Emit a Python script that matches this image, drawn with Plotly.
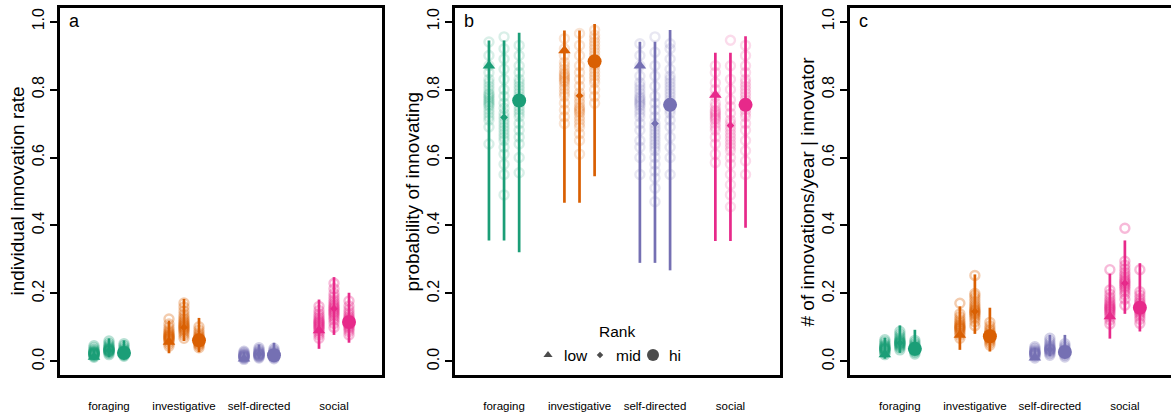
import plotly.graph_objects as go

categories = ["foraging", "investigative", "self-directed", "social"]
ranks = ["low", "mid", "hi"]
colors = ["#1B9E77", "#D95F02", "#7570B3", "#E7298A"]
rank_offset = [-0.2, 0.0, 0.2]
rank_symbol = ["triangle-up", "diamond", "circle"]
rank_size = [11, 6, 14]

# ---- panel a: individual innovation rate (rows: category, cols: low/mid/hi)
rate_est = [[0.013, 0.032, 0.025],
            [0.057, 0.100, 0.062],
            [0.008, 0.021, 0.018],
            [0.091, 0.155, 0.116]]
rate_lo = [[0.004, 0.012, 0.010],
           [0.024, 0.060, 0.027],
           [0.003, 0.008, 0.006],
           [0.037, 0.078, 0.055]]
rate_hi = [[0.035, 0.068, 0.062],
           [0.120, 0.184, 0.128],
           [0.028, 0.050, 0.055],
           [0.182, 0.248, 0.202]]
rate_draws = [
    [[0.012, 0.015, 0.017, 0.019, 0.020, 0.021, 0.022, 0.023, 0.024, 0.024, 0.025, 0.026,
      0.027, 0.028, 0.030, 0.032, 0.035, 0.040, 0.046],
     [0.020, 0.024, 0.027, 0.029, 0.030, 0.031, 0.032, 0.033, 0.034, 0.035, 0.036, 0.037,
      0.039, 0.041, 0.044, 0.048, 0.053, 0.060],
     [0.015, 0.018, 0.020, 0.022, 0.023, 0.024, 0.025, 0.026, 0.027, 0.028, 0.029, 0.031,
      0.033, 0.036, 0.040, 0.046, 0.052]],
    [[0.045, 0.052, 0.058, 0.062, 0.065, 0.067, 0.069, 0.071, 0.073, 0.075, 0.077, 0.080,
      0.083, 0.087, 0.092, 0.100, 0.110, 0.125],
     [0.068, 0.077, 0.084, 0.089, 0.093, 0.096, 0.099, 0.102, 0.105, 0.108, 0.111, 0.115,
      0.119, 0.124, 0.130, 0.138, 0.148, 0.160, 0.172],
     [0.040, 0.046, 0.050, 0.053, 0.056, 0.058, 0.060, 0.062, 0.064, 0.066, 0.068, 0.071,
      0.074, 0.078, 0.084, 0.092, 0.102]],
    [[0.006, 0.009, 0.011, 0.012, 0.013, 0.014, 0.015, 0.016, 0.017, 0.018, 0.019, 0.021,
      0.023, 0.026, 0.030],
     [0.010, 0.013, 0.015, 0.017, 0.018, 0.019, 0.020, 0.021, 0.022, 0.023, 0.024, 0.026,
      0.028, 0.031, 0.035, 0.040],
     [0.008, 0.011, 0.013, 0.015, 0.016, 0.017, 0.018, 0.019, 0.020, 0.021, 0.022, 0.024,
      0.026, 0.029, 0.033, 0.038]],
    [[0.068, 0.078, 0.085, 0.091, 0.096, 0.100, 0.103, 0.106, 0.109, 0.112, 0.115, 0.118,
      0.122, 0.127, 0.133, 0.140, 0.150, 0.162],
     [0.100, 0.112, 0.121, 0.128, 0.134, 0.139, 0.143, 0.147, 0.151, 0.155, 0.159, 0.163,
      0.168, 0.174, 0.181, 0.190, 0.200, 0.214, 0.230],
     [0.078, 0.088, 0.095, 0.100, 0.104, 0.107, 0.110, 0.113, 0.116, 0.119, 0.122, 0.126,
      0.130, 0.136, 0.143, 0.152, 0.163, 0.178]],
]

# ---- panel b: probability of innovating
prob_est = [[0.870, 0.718, 0.768],
            [0.915, 0.782, 0.883],
            [0.870, 0.700, 0.755],
            [0.784, 0.694, 0.755]]
prob_lo = [[0.356, 0.356, 0.321],
           [0.467, 0.467, 0.545],
           [0.290, 0.290, 0.268],
           [0.354, 0.354, 0.393]]
prob_hi = [[0.944, 0.944, 0.967],
           [0.974, 0.974, 0.993],
           [0.941, 0.941, 0.975],
           [0.908, 0.908, 0.957]]
prob_draws = [
    [[0.94, 0.90, 0.87, 0.85, 0.83, 0.82, 0.81, 0.80, 0.79, 0.785, 0.78, 0.775, 0.77, 0.765,
      0.76, 0.755, 0.75, 0.74, 0.73, 0.72, 0.71, 0.69, 0.64],
     [0.955, 0.92, 0.89, 0.86, 0.83, 0.80, 0.78, 0.76, 0.745, 0.73, 0.72, 0.71, 0.70, 0.69,
      0.68, 0.67, 0.66, 0.65, 0.63, 0.61, 0.58, 0.55, 0.49],
     [0.93, 0.90, 0.87, 0.85, 0.83, 0.82, 0.81, 0.80, 0.79, 0.78, 0.77, 0.76, 0.75, 0.74,
      0.73, 0.72, 0.70, 0.68, 0.66, 0.64, 0.60, 0.555]],
    [[0.95, 0.92, 0.90, 0.88, 0.87, 0.86, 0.85, 0.845, 0.84, 0.835, 0.83, 0.825, 0.82, 0.81,
      0.80, 0.79, 0.78, 0.76, 0.74, 0.72, 0.70],
     [0.965, 0.93, 0.90, 0.87, 0.85, 0.83, 0.81, 0.79, 0.78, 0.77, 0.76, 0.75, 0.745, 0.74,
      0.735, 0.73, 0.72, 0.71, 0.70, 0.69, 0.67, 0.65, 0.61],
     [0.975, 0.96, 0.95, 0.94, 0.93, 0.92, 0.91, 0.90, 0.89, 0.885, 0.88, 0.875, 0.87, 0.86,
      0.85, 0.84, 0.83, 0.82, 0.80, 0.78, 0.76]],
    [[0.935, 0.90, 0.87, 0.84, 0.82, 0.81, 0.80, 0.79, 0.78, 0.775, 0.77, 0.765, 0.76, 0.755,
      0.75, 0.74, 0.73, 0.72, 0.70, 0.68, 0.65, 0.63, 0.60, 0.55],
     [0.955, 0.91, 0.87, 0.84, 0.81, 0.78, 0.76, 0.74, 0.72, 0.70, 0.69, 0.68, 0.67, 0.66,
      0.65, 0.64, 0.63, 0.62, 0.60, 0.58, 0.56, 0.54, 0.51, 0.47],
     [0.935, 0.92, 0.89, 0.86, 0.84, 0.83, 0.82, 0.81, 0.80, 0.79, 0.78, 0.77, 0.76, 0.75,
      0.74, 0.73, 0.71, 0.69, 0.66, 0.63, 0.60, 0.55]],
    [[0.87, 0.85, 0.82, 0.80, 0.78, 0.76, 0.75, 0.74, 0.735, 0.73, 0.725, 0.72, 0.715, 0.71,
      0.70, 0.69, 0.68, 0.66, 0.64, 0.61, 0.585],
     [0.945, 0.87, 0.83, 0.80, 0.77, 0.75, 0.73, 0.71, 0.70, 0.69, 0.68, 0.67, 0.66, 0.65,
      0.64, 0.63, 0.62, 0.60, 0.58, 0.55, 0.52, 0.49, 0.455],
     [0.93, 0.90, 0.87, 0.85, 0.83, 0.82, 0.81, 0.80, 0.79, 0.78, 0.77, 0.76, 0.75, 0.74,
      0.73, 0.72, 0.70, 0.68, 0.65, 0.62, 0.59, 0.55]],
]

# ---- panel c: innovations per year given innovator
count_est = [[0.020, 0.054, 0.037],
             [0.078, 0.147, 0.074],
             [0.011, 0.035, 0.028],
             [0.132, 0.230, 0.158]]
count_lo = [[0.008, 0.025, 0.018],
            [0.034, 0.081, 0.029],
            [0.004, 0.015, 0.012],
            [0.067, 0.140, 0.088]]
count_hi = [[0.070, 0.106, 0.093],
            [0.162, 0.256, 0.158],
            [0.040, 0.078, 0.078],
            [0.258, 0.356, 0.289]]
count_draws = [
    [[0.020, 0.025, 0.028, 0.031, 0.033, 0.035, 0.036, 0.037, 0.038, 0.039, 0.041, 0.043,
      0.045, 0.048, 0.052, 0.058, 0.064],
     [0.034, 0.040, 0.044, 0.047, 0.049, 0.051, 0.053, 0.054, 0.055, 0.057, 0.059, 0.061,
      0.064, 0.068, 0.073, 0.080, 0.088],
     [0.022, 0.027, 0.030, 0.032, 0.034, 0.035, 0.036, 0.037, 0.038, 0.040, 0.042, 0.044,
      0.047, 0.051, 0.056, 0.062]],
    [[0.068, 0.077, 0.083, 0.088, 0.092, 0.095, 0.098, 0.100, 0.102, 0.105, 0.108, 0.112,
      0.117, 0.123, 0.131, 0.140, 0.171],
     [0.105, 0.117, 0.126, 0.132, 0.137, 0.141, 0.144, 0.147, 0.150, 0.153, 0.157, 0.162,
      0.168, 0.176, 0.185, 0.193, 0.200, 0.253],
     [0.048, 0.055, 0.060, 0.064, 0.067, 0.070, 0.072, 0.074, 0.076, 0.078, 0.081, 0.085,
      0.090, 0.096, 0.104, 0.115]],
    [[0.010, 0.015, 0.018, 0.020, 0.022, 0.023, 0.024, 0.025, 0.026, 0.027, 0.029, 0.031,
      0.034, 0.038, 0.043],
     [0.018, 0.023, 0.027, 0.030, 0.032, 0.034, 0.035, 0.036, 0.037, 0.039, 0.041, 0.044,
      0.048, 0.053, 0.060, 0.068],
     [0.013, 0.018, 0.021, 0.023, 0.025, 0.026, 0.027, 0.028, 0.029, 0.031, 0.033, 0.036,
      0.040, 0.045, 0.052]],
    [[0.110, 0.122, 0.131, 0.138, 0.143, 0.147, 0.151, 0.154, 0.157, 0.160, 0.164, 0.168,
      0.173, 0.180, 0.188, 0.198, 0.210, 0.270],
     [0.165, 0.183, 0.196, 0.205, 0.212, 0.218, 0.223, 0.228, 0.232, 0.236, 0.241, 0.247,
      0.254, 0.262, 0.272, 0.283, 0.295, 0.392],
     [0.112, 0.124, 0.133, 0.140, 0.145, 0.149, 0.153, 0.156, 0.159, 0.162, 0.166, 0.171,
      0.177, 0.185, 0.195, 0.205, 0.270]],
]

y_titles = ["individual innovation rate", "probability of innovating",
            "# of innovations/year | innovator"]
panel_letters = ["a", "b", "c"]

FONT = "Liberation Sans, Arial, Helvetica, sans-serif"
W, H = 1171, 415


def rgba(hex_color, alpha):
    h = hex_color.lstrip("#")
    r, g, b = int(h[0:2], 16), int(h[2:4], 16), int(h[4:6], 16)
    return f"rgba({r},{g},{b},{alpha})"


panels = [
    dict(est=rate_est, lo=rate_lo, hi=rate_hi, draws=rate_draws, alpha=0.32,
         xdom=(60, 382), xrange=(0.347, 4.64)),
    dict(est=prob_est, lo=prob_lo, hi=prob_hi, draws=prob_draws, alpha=0.17,
         xdom=(455, 779.5), xrange=(0.35, 4.65)),
    dict(est=count_est, lo=count_lo, hi=count_hi, draws=count_draws, alpha=0.32,
         xdom=(850, 1171), xrange=(0.335, 4.615)),
]

fig = go.Figure()

for p, panel in enumerate(panels):
    xa = "x" if p == 0 else f"x{p + 1}"
    ya = "y" if p == 0 else f"y{p + 1}"
    for c, cat in enumerate(categories):
        col = colors[c]
        # faint cloud of open circles
        cx, cy = [], []
        for r in range(3):
            for v in panel["draws"][c][r]:
                cx.append(c + 1 + rank_offset[r])
                cy.append(v)
        fig.add_trace(go.Scatter(
            x=cx, y=cy, mode="markers", xaxis=xa, yaxis=ya, showlegend=False,
            hoverinfo="skip",
            marker=dict(symbol="circle-open", size=9, color=rgba(col, panel["alpha"]),
                        line=dict(width=2.4, color=rgba(col, panel["alpha"])))))
        # intervals and point estimates
        for r in range(3):
            est = panel["est"][c][r]
            lo = panel["lo"][c][r]
            hi = panel["hi"][c][r]
            fig.add_trace(go.Scatter(
                x=[c + 1 + rank_offset[r]], y=[est], mode="markers",
                xaxis=xa, yaxis=ya, showlegend=False,
                name=f"{cat} {ranks[r]}",
                error_y=dict(type="data", symmetric=False, array=[hi - est],
                             arrayminus=[est - lo], color=col, thickness=2.7, width=0),
                marker=dict(symbol=rank_symbol[r], size=rank_size[r], color=col,
                            line=dict(width=0))))

# rank key drawn on an invisible full-page overlay measured in pixels
key_x = [548, 600, 653]
key_text_x = [562, 614, 667]
key_y = 355
key_sizes = [8, 5, 12]
fig.add_trace(go.Scatter(
    x=key_x, y=[key_y] * 3, mode="markers", xaxis="x4", yaxis="y4", showlegend=False,
    hoverinfo="skip",
    marker=dict(symbol=rank_symbol, size=key_sizes, color="black", line=dict(width=0))))

ydom = (1 - 375 / H, 1 - 8 / H)
layout = dict(
    width=W, height=H, margin=dict(l=0, r=0, t=0, b=0),
    paper_bgcolor="white", plot_bgcolor="rgba(0,0,0,0)",
    font=dict(family=FONT, color="black"),
    showlegend=False,
    xaxis4=dict(domain=[0, 1], range=[0, W], visible=False, fixedrange=True, anchor="y4"),
    yaxis4=dict(domain=[0, 1], range=[H, 0], visible=False, fixedrange=True, anchor="x4"),
)
annotations = []
for p, panel in enumerate(panels):
    sfx = "" if p == 0 else str(p + 1)
    x0, x1 = panel["xdom"]
    layout[f"xaxis{sfx}"] = dict(
        domain=[x0 / W, min(x1 / W, 1.0)], range=list(panel["xrange"]),
        tickvals=[1, 2, 3, 4], ticktext=categories, ticks="",
        tickfont=dict(size=11.5), ticklabelstandoff=18,
        showgrid=False, zeroline=False, showline=True, linecolor="black", linewidth=2.5,
        mirror=True, anchor="y" + sfx, fixedrange=True)
    layout[f"yaxis{sfx}"] = dict(
        domain=list(ydom), range=[-0.04, 1.04],
        tickvals=[0, 0.2, 0.4, 0.6, 0.8, 1.0],
        ticktext=["0.0", "0.2", "0.4", "0.6", "0.8", "1.0"],
        ticks="outside", ticklen=7, tickwidth=2, tickcolor="black",
        tickangle=-90, tickfont=dict(size=16),
        showgrid=False, zeroline=False, showline=True, linecolor="black", linewidth=2.5,
        mirror=(p < 2), anchor="x" + sfx, fixedrange=True)
    annotations.append(dict(
        text=y_titles[p], xref="paper", yref="paper",
        x=(x0 - 43) / W, y=(ydom[0] + ydom[1]) / 2, xanchor="center", yanchor="middle",
        textangle=-90, showarrow=False, font=dict(size=19)))
    annotations.append(dict(
        text=panel_letters[p], xref="paper", yref="paper",
        x=(x0 + 7) / W, y=1 - 21 / H, xanchor="left", yanchor="middle",
        showarrow=False, font=dict(size=18)))

annotations.append(dict(
    text="Rank", xref="x4", yref="y4", x=617, y=331, xanchor="center", yanchor="middle",
    showarrow=False, font=dict(size=15.5)))
for t, tx in zip(ranks, key_text_x):
    annotations.append(dict(
        text=t, xref="x4", yref="y4", x=tx, y=key_y, xanchor="left", yanchor="middle",
        showarrow=False, font=dict(size=15.5)))
layout["annotations"] = annotations

fig.update_layout(**layout)
fig.write_html("out.html")
